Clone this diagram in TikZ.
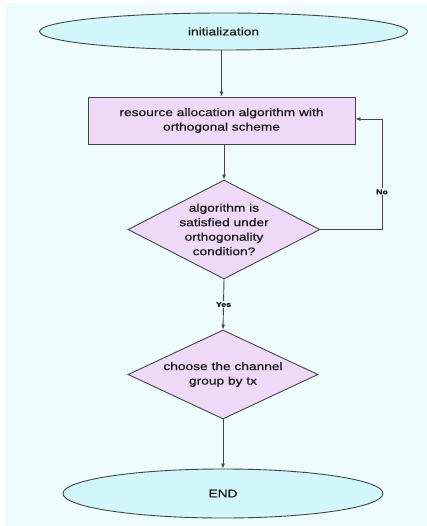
\documentclass[tikz,border=0pt]{standalone}
\usepackage{fontspec}
\setmainfont{Liberation Sans}[FakeStretch=1.25,FakeBold=0.6]
\usetikzlibrary{shapes.geometric,arrows.meta}
\definecolor{bgc}{HTML}{EEFCFD}
\definecolor{ellc}{HTML}{D2F7FA}
\definecolor{lavc}{HTML}{EEDAF7}
\definecolor{linec}{HTML}{454545}
\begin{document}
\begin{tikzpicture}[x=1pt,y=-1pt,
  every node/.style={font=\fontsize{11}{14.5}\selectfont, text=black!90},
  term/.style={ellipse, draw=linec, fill=ellc, line width=0.9pt, inner sep=0pt},
  procbox/.style={rectangle, draw=linec, fill=lavc, line width=0.9pt, align=center, inner sep=0pt},
  decide/.style={diamond, draw=linec, fill=lavc, line width=0.9pt, align=center, inner sep=0pt},
  conn/.style={draw=linec, line width=0.9pt, -{Latex[length=5pt,width=4pt]}},
  lbl/.style={fill=bgc, inner sep=1pt, font=\fontsize{7}{8}\selectfont\bfseries}
]
\fill[white] (0,0) rectangle (427,526);
\fill[bgc] (6,3) rectangle (427,526);
\useasboundingbox (0,0) rectangle (427,526);

\node[term, minimum width=368pt, minimum height=37pt] (init) at (223.5,31.5) {initialization};
\node[procbox, minimum width=267pt, minimum height=47pt] (alloc) at (221.5,120.5) {resource allocation algorithm with\\orthogonal scheme};
\node[decide, minimum width=192pt, minimum height=99pt, aspect=1.94] (check) at (224,229.5) {algorithm is\\satisfied under\\orthogonality\\condition?};
\node[decide, minimum width=190pt, minimum height=89pt, aspect=2.13] (choose) at (223,374.5) {choose the channel\\group by tx};
\node[term, minimum width=320pt, minimum height=49pt] (end) at (223,493.5) {END};

\coordinate (fb) at (382,119);

\draw[conn] (init.south -| alloc.north) -- (alloc.north);
\draw[conn] (alloc.south -| check.north) -- (check.north);
\draw[conn] (check.south) -- node[lbl, pos=0.5] {Yes} (choose.north);
\draw[conn] (choose.south) -- (end.north -| choose.south);
\draw[conn] (check.east) -| node[lbl, pos=0.67] {No} (fb) -- (alloc.east |- fb);
\end{tikzpicture}
\end{document}
